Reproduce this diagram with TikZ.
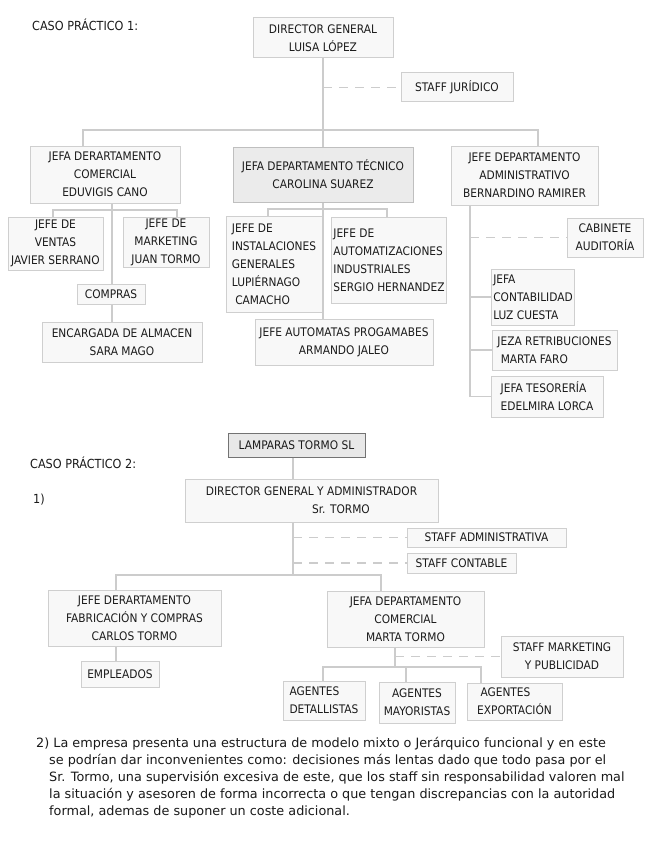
\documentclass[tikz,border=0pt]{standalone}
\usepackage{fontspec}
\setmainfont{DejaVu Sans}
\newfontfamily\labfont{DejaVu Sans Condensed}
\definecolor{boxline}{HTML}{CFCFCF}
\definecolor{boxfill}{HTML}{F8F8F8}
\definecolor{connline}{HTML}{CCCCCC}
\definecolor{inkcol}{HTML}{1A1A1A}
\newcommand{\lab}{\labfont\fontsize{11.8}{18}\selectfont}
\begin{document}
\begin{tikzpicture}[x=1pt,y=-1pt,
  box/.style={draw=boxline, fill=boxfill, line width=1pt, inner xsep=2pt, inner ysep=0pt,
    font=\lab, align=center, text=inkcol},
  conn/.style={draw=connline, line width=1.2pt},
  dashln/.style={draw=connline, line width=1.2pt, dash pattern=on 9pt off 7pt},
  head/.style={anchor=west, font=\labfont\fontsize{12.5}{15}\selectfont, text=inkcol, inner sep=0pt}]
\useasboundingbox[fill=white] (0,0) rectangle (655,848);

% ---------- Caso practico 1 ----------
\node[head] (h1) at (32,25) {CASO PRÁCTICO 1:};

\node[box, minimum width=140pt, minimum height=40pt] (dir1) at (323,38) {DIRECTOR GENERAL\\LUISA LÓPEZ};
\node[box, minimum width=112pt, minimum height=29pt] (jur) at (457,87.5) {STAFF JURÍDICO};
\node[box, minimum width=150pt, minimum height=57pt] (com) at (105,174.5) {JEFA DERARTAMENTO\\COMERCIAL\\EDUVIGIS CANO};
\node[box, fill=black!8, draw=black!25, minimum width=180pt, minimum height=55pt] (tec) at (323,174.5) {JEFA DEPARTAMENTO TÉCNICO\\CAROLINA SUAREZ};
\node[box, minimum width=147pt, minimum height=59pt] (adm) at (524.5,175.5) {JEFE DEPARTAMENTO\\ADMINISTRATIVO\\BERNARDINO RAMIRER};
\node[box, minimum width=95pt, minimum height=53pt] (ven) at (55.5,243.5) {JEFE DE\\VENTAS\\JAVIER SERRANO};
\node[box, minimum width=86pt, minimum height=50pt] (mkt) at (166,242) {JEFE DE\\MARKETING\\JUAN TORMO};
\node[box, minimum width=68pt, minimum height=20pt] (cmp) at (111,294) {COMPRAS};
\node[box, minimum width=160pt, minimum height=40pt] (alm) at (122,342) {ENCARGADA DE ALMACEN\\SARA MAGO};
\node[box, align=left, minimum width=96pt, minimum height=96pt] (ins) at (274,264) {JEFE DE\\INSTALACIONES\\GENERALES\\LUPIÉRNAGO\\\ CAMACHO};
\node[box, align=left, minimum width=112pt, minimum height=86pt] (aut) at (389,260) {JEFE DE\\AUTOMATIZACIONES\\INDUSTRIALES\\SERGIO HERNANDEZ};
\node[box, minimum width=178pt, minimum height=46pt] (apr) at (344,342) {JEFE AUTOMATAS PROGAMABES\\ARMANDO JALEO};
\node[box, minimum width=76pt, minimum height=39pt] (gab) at (605,237.5) {CABINETE\\AUDITORÍA};
\node[box, align=left, minimum width=82pt, minimum height=56pt] (cont) at (533,297) {JEFA\\CONTABILIDAD\\LUZ CUESTA};
\node[box, align=left, minimum width=125pt, minimum height=40pt] (ret) at (554.5,350) {JEZA RETRIBUCIONES\\\ MARTA FARO};
\node[box, align=left, minimum width=112pt, minimum height=41pt] (tes) at (547,396.5) {JEFA TESORERÍA\\EDELMIRA LORCA};

% connectors part 1
\coordinate (b1L) at (83,130);
\coordinate (b1R) at (538,130);
\draw[conn] (dir1.south) -- (tec.north);
\draw[dashln] (dir1.south |- jur.west) -- (jur.west);
\draw[conn] (b1L |- com.north) -- (b1L) -- (b1R) -- (b1R |- adm.north);
% comercial
\coordinate (cv) at (112,210);
\coordinate (cL) at (53,210);
\coordinate (cR) at (177,210);
\draw[conn] (cv |- com.south) -- (cv |- cmp.north);
\draw[conn] (cL |- ven.north) -- (cL) -- (cR) -- (cR |- mkt.north);
\draw[conn] (cv |- cmp.south) -- (cv |- alm.north);
% tecnico
\coordinate (tL) at (268,209);
\coordinate (tR) at (387,209);
\draw[conn] (tec.south) -- (tec.south |- apr.north);
\draw[conn] (tL |- ins.north) -- (tL) -- (tR) -- (tR |- aut.north);
% administrativo
\coordinate (av) at (470,205);
\coordinate (aend) at (470,396.5);
\draw[conn] (av |- adm.south) -- (aend);
\draw[dashln] (av |- gab.west) -- (gab.west);
\draw[conn] (av |- cont.west) -- (cont.west);
\draw[conn] (av |- ret.west) -- (ret.west);
\draw[conn] (aend) -- (tes.west);

% ---------- Caso practico 2 ----------
\node[head] (h2) at (30,463) {CASO PRÁCTICO 2:};
\node[head] (n1) at (33,500) {1)};

\node[box, draw=black!55, fill=black!9, minimum width=137pt, minimum height=24pt] (lam) at (296.5,445) {LAMPARAS TORMO SL};
\node[box, minimum width=253pt, minimum height=43pt] (dir2) at (311.5,500.5) {DIRECTOR GENERAL Y ADMINISTRADOR\\\qquad\qquad\quad Sr. TORMO};
\node[box, align=left, minimum width=159pt, minimum height=19pt] (sadm) at (486.5,537.5) {STAFF ADMINISTRATIVA};
\node[box, align=left, minimum width=109pt, minimum height=20pt] (scon) at (461.5,563) {STAFF CONTABLE};
\node[box, minimum width=173pt, minimum height=56pt] (fab) at (134.5,618) {JEFE DERARTAMENTO\\FABRICACIÓN Y COMPRAS\\CARLOS TORMO};
\node[box, minimum width=78pt, minimum height=26pt] (emp) at (120,674) {EMPLEADOS};
\node[box, minimum width=157pt, minimum height=56pt] (com2) at (405.5,619) {JEFA DEPARTAMENTO\\COMERCIAL\\MARTA TORMO};
\node[box, minimum width=122pt, minimum height=41pt] (smk) at (562,656.5) {STAFF MARKETING\\Y PUBLICIDAD};
\node[box, align=left, minimum width=82pt, minimum height=39pt] (det) at (324,700.5) {AGENTES\\DETALLISTAS};
\node[box, minimum width=76pt, minimum height=41pt] (may) at (417,702.5) {AGENTES\\MAYORISTAS};
\node[box, align=left, minimum width=95pt, minimum height=37pt] (exp) at (514.5,701.5) {\ AGENTES\\EXPORTACIÓN};

% connectors part 2
\coordinate (dv) at (293,575);
\coordinate (bL) at (116,575);
\coordinate (bR) at (381,575);
\draw[conn] (dv |- lam.south) -- (dv |- dir2.north);
\draw[conn] (dv |- dir2.south) -- (dv);
\draw[dashln] (dv |- sadm.west) -- (sadm.west);
\draw[dashln] (dv |- scon.west) -- (scon.west);
\draw[conn] (bL |- fab.north) -- (bL) -- (bR) -- (bR |- com2.north);
\draw[conn] (bL |- fab.south) -- (bL |- emp.north);
\coordinate (mv) at (395,667);
\coordinate (mL) at (323,667);
\coordinate (mM) at (406,667);
\coordinate (mR) at (481,667);
\draw[conn] (mv |- com2.south) -- (mv);
\draw[dashln] (mv |- smk.west) -- (smk.west);
\draw[conn] (mL |- det.north) -- (mL) -- (mR) -- (mR |- exp.north);
\draw[conn] (mM) -- (mM |- may.north);

% ---------- paragraph ----------
\node[anchor=north west, align=left, inner sep=0pt, text=inkcol,
      font=\fontsize{12.8}{17}\selectfont] (par) at (36,737)
{2) La empresa presenta una estructura de modelo mixto o Jerárquico funcional y en este\\
\hspace*{13pt}se podrían dar inconvenientes como: decisiones más lentas dado que todo pasa por el\\
\hspace*{13pt}Sr. Tormo, una supervisión excesiva de este, que los staff sin responsabilidad valoren mal\\
\hspace*{13pt}la situación y asesoren de forma incorrecta o que tengan discrepancias con la autoridad\\
\hspace*{13pt}formal, ademas de suponer un coste adicional.};
\end{tikzpicture}
\end{document}
